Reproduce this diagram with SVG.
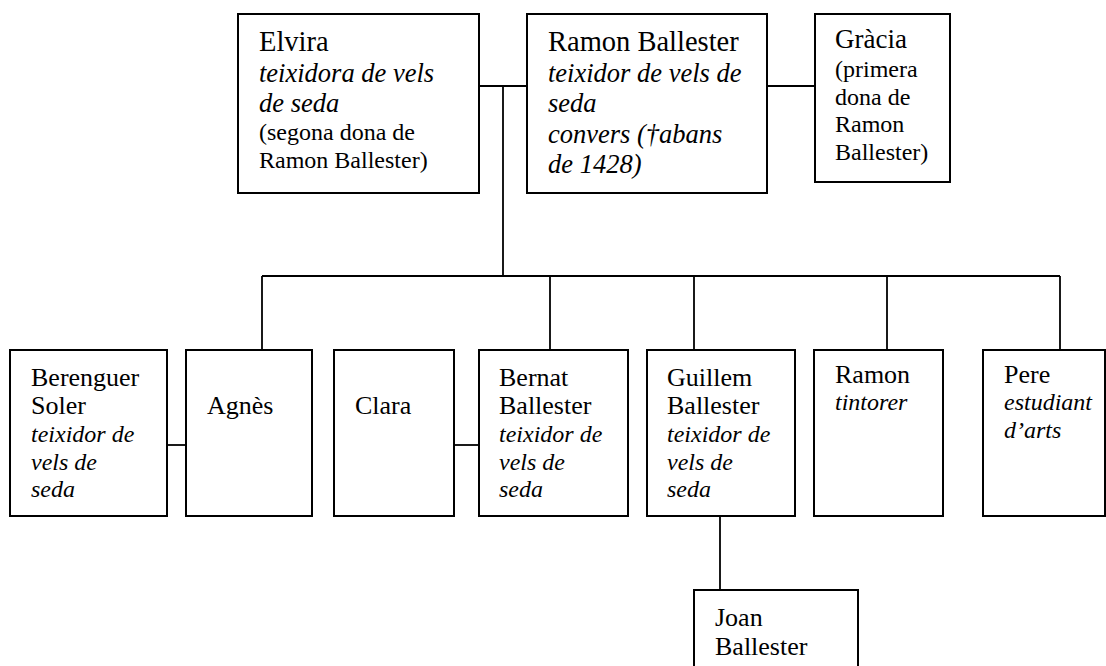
<svg xmlns="http://www.w3.org/2000/svg" width="1106" height="666" viewBox="0 0 1106 666">
<style>
rect.box{fill:#fff;stroke:#000;stroke-width:2}
.c line{stroke:#000;stroke-width:1.8}
text{fill:#000}
.n1{font-size:28.5px}
.i1{font-size:26.5px;font-style:italic}
.p{font-size:24px}
.n2{font-size:26px}
.i2{font-size:24px;font-style:italic}
</style>
<rect width="1106" height="666" fill="#fff"/>
<g class="c" id="connectors">
<line x1="479" y1="86" x2="527" y2="86"/>
<line x1="767" y1="86" x2="815" y2="86"/>
<line x1="503" y1="86" x2="503" y2="276"/>
<line x1="262" y1="276" x2="1060" y2="276"/>
<line x1="262" y1="276" x2="262" y2="350"/>
<line x1="550" y1="276" x2="550" y2="350"/>
<line x1="694" y1="276" x2="694" y2="350"/>
<line x1="887" y1="276" x2="887" y2="350"/>
<line x1="1060" y1="276" x2="1060" y2="350"/>
<line x1="167" y1="445" x2="186" y2="445"/>
<line x1="454" y1="445" x2="479" y2="445"/>
<line x1="720" y1="516" x2="720" y2="590"/>
</g>
<g id="elvira" font-family="Liberation Serif">
<rect class="box" x="238" y="14" width="241" height="179"/>
<text class="n1" x="259" y="51">Elvira</text>
<text class="i1" x="259" y="81.5">teixidora de vels</text>
<text class="i1" x="259" y="111.5">de seda</text>
<text class="p" x="259" y="140">(segona dona de</text>
<text class="p" x="259" y="168">Ramon Ballester)</text>
</g>
<g id="ramon-ballester" font-family="Liberation Serif">
<rect class="box" x="527" y="14" width="240" height="179"/>
<text class="n1" x="548" y="51">Ramon Ballester</text>
<text class="i1" x="548" y="82">teixidor de vels de</text>
<text class="i1" x="548" y="112">seda</text>
<text class="i1" x="548" y="143">convers (†abans</text>
<text class="i1" x="548" y="173">de 1428)</text>
</g>
<g id="gracia" font-family="Liberation Serif">
<rect class="box" x="815" y="14" width="135" height="168"/>
<text x="835" y="48" style="font-size:27px">Gràcia</text>
<text class="p" x="835" y="77">(primera</text>
<text class="p" x="835" y="105">dona de</text>
<text class="p" x="835" y="132">Ramon</text>
<text class="p" x="835" y="160">Ballester)</text>
</g>
<g id="berenguer" font-family="Liberation Serif">
<rect class="box" x="10" y="350" width="157" height="166"/>
<text class="n2" x="31" y="386">Berenguer</text>
<text class="n2" x="31" y="414">Soler</text>
<text class="i2" x="31" y="442">teixidor de</text>
<text class="i2" x="31" y="470">vels de</text>
<text class="i2" x="31" y="497">seda</text>
</g>
<g id="agnes" font-family="Liberation Serif">
<rect class="box" x="186" y="350" width="126" height="166"/>
<text class="n2" x="207" y="414">Agnès</text>
</g>
<g id="clara" font-family="Liberation Serif">
<rect class="box" x="334" y="350" width="120" height="166"/>
<text class="n2" x="355" y="414">Clara</text>
</g>
<g id="bernat" font-family="Liberation Serif">
<rect class="box" x="479" y="350" width="149" height="166"/>
<text class="n2" x="499" y="386">Bernat</text>
<text class="n2" x="499" y="414">Ballester</text>
<text class="i2" x="499" y="442">teixidor de</text>
<text class="i2" x="499" y="470">vels de</text>
<text class="i2" x="499" y="497">seda</text>
</g>
<g id="guillem" font-family="Liberation Serif">
<rect class="box" x="647" y="350" width="148" height="166"/>
<text class="n2" x="667" y="386">Guillem</text>
<text class="n2" x="667" y="414">Ballester</text>
<text class="i2" x="667" y="442">teixidor de</text>
<text class="i2" x="667" y="470">vels de</text>
<text class="i2" x="667" y="497">seda</text>
</g>
<g id="ramon" font-family="Liberation Serif">
<rect class="box" x="814" y="350" width="129" height="166"/>
<text class="n2" x="835" y="383">Ramon</text>
<text class="i2" x="835" y="410">tintorer</text>
</g>
<g id="pere" font-family="Liberation Serif">
<rect class="box" x="983" y="350" width="122" height="166"/>
<text class="n2" x="1004" y="383">Pere</text>
<text class="i2" x="1004" y="410">estudiant</text>
<text class="i2" x="1004" y="438">d’arts</text>
</g>
<g id="joan" font-family="Liberation Serif">
<rect class="box" x="694" y="590" width="164" height="90"/>
<text class="n2" x="715" y="626">Joan</text>
<text class="n2" x="715" y="655">Ballester</text>
</g>
</svg>
